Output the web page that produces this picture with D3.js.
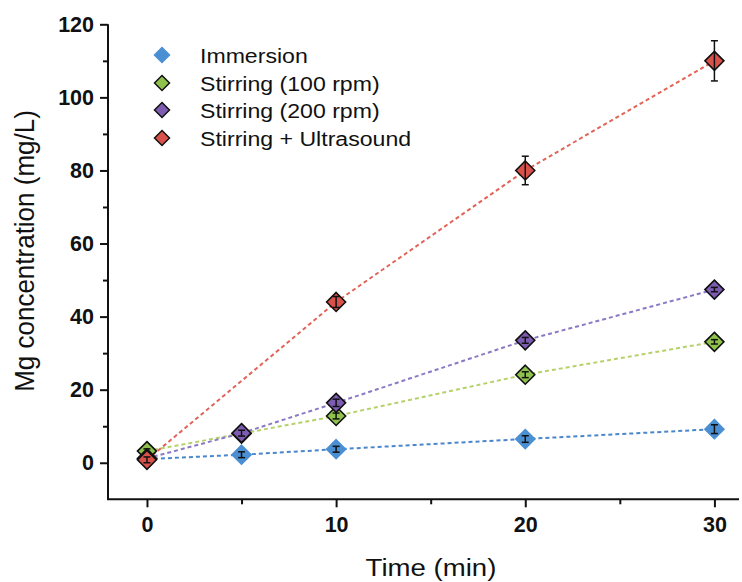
<!DOCTYPE html>
<html><head><meta charset="utf-8">
<script src="https://cdn.jsdelivr.net/npm/d3@7"></script>
<style>body{margin:0;background:#fff;} text{font-family:"Liberation Sans",Arial,sans-serif;}</style>
</head><body>
<svg id="c" width="742" height="582"></svg>
<script>
const times = [0, 5, 10, 20, 30];
const seriesNames = ["Immersion", "Stirring (100 rpm)", "Stirring (200 rpm)", "Stirring + Ultrasound"];
const immersion = [1.0, 2.2, 3.7, 6.5, 9.2];
const immersionErr = [0.4, 0.8, 0.8, 0.9, 1.2];
const stirring100 = [3.2, 8.0, 12.8, 24.1, 33.1];
const stirring100Err = [0.6, 0.6, 0.8, 0.8, 0.6];
const stirring200 = [1.2, 8.1, 16.4, 33.5, 47.4];
const stirring200Err = [0.5, 0.8, 1.0, 0.8, 0.6];
const ultrasoundTimes = [0, 10, 20, 30];
const ultrasound = [0.8, 44.0, 80.0, 110.0];
const ultrasoundErr = [0.8, 1.5, 3.9, 5.5];
const xMajorTicks = [0, 10, 20, 30];
const xMinorTicks = [5, 15, 25];
const yMajorTicks = [0, 20, 40, 60, 80, 100, 120];
const yMinorTicks = [10, 30, 50, 70, 90, 110];

const fills = ["#4b8fd3", "#8fc24d", "#7d5cb2", "#d8524b"];
const lineColors = ["#4a86cc", "#b5d26a", "#8c79c4", "#e26458"];

const series = [
  {name: seriesNames[0], t: times, v: immersion, e: immersionErr, outline: false},
  {name: seriesNames[1], t: times, v: stirring100, e: stirring100Err, outline: true},
  {name: seriesNames[2], t: times, v: stirring200, e: stirring200Err, outline: true},
  {name: seriesNames[3], t: ultrasoundTimes, v: ultrasound, e: ultrasoundErr, outline: true}
];

const svg = d3.select("#c");
const x = d3.scaleLinear().domain([-2.06, 31.3]).range([108, 739]);
const y = d3.scaleLinear().domain([-10, 120]).range([499.3, 24.3]);

// axes
const ax = svg.append("g");
ax.append("line").attr("x1", 108).attr("x2", 108).attr("y1", y(120)).attr("y2", y(-10)).attr("stroke", "#111").attr("stroke-width", 2);
ax.append("line").attr("x1", 107).attr("x2", x.range()[1]).attr("y1", y(-10)).attr("y2", y(-10)).attr("stroke", "#111").attr("stroke-width", 2);

const yAxis = d3.axisLeft(y).tickValues(yMajorTicks).tickSize(8).tickPadding(6);
const gy = svg.append("g").attr("transform", "translate(108,0)").call(yAxis);
gy.select(".domain").remove();
gy.selectAll(".tick line").attr("stroke", "#111").attr("stroke-width", 2);
gy.selectAll(".tick text").attr("font-size", 21.5).attr("font-weight", "bold").attr("fill", "#111").attr("font-family", "Liberation Sans, Arial, sans-serif");
const gy2 = svg.append("g").attr("transform", "translate(108,0)").call(d3.axisLeft(y).tickValues(yMinorTicks).tickSize(5).tickFormat(""));
gy2.select(".domain").remove();
gy2.selectAll(".tick line").attr("stroke", "#111").attr("stroke-width", 2);

const xAxis = d3.axisBottom(x).tickValues(xMajorTicks).tickSize(8).tickPadding(9);
const gx = svg.append("g").attr("transform", `translate(0,${y(-10)})`).call(xAxis);
gx.select(".domain").remove();
gx.selectAll(".tick line").attr("stroke", "#111").attr("stroke-width", 2);
gx.selectAll(".tick text").attr("font-size", 21.5).attr("font-weight", "bold").attr("fill", "#111").attr("font-family", "Liberation Sans, Arial, sans-serif");
const gx2 = svg.append("g").attr("transform", `translate(0,${y(-10)})`).call(d3.axisBottom(x).tickValues(xMinorTicks).tickSize(5).tickFormat(""));
gx2.select(".domain").remove();
gx2.selectAll(".tick line").attr("stroke", "#111").attr("stroke-width", 2);

// titles
svg.append("text").attr("x", 431).attr("y", 576).attr("text-anchor", "middle").attr("font-size", 24).attr("fill", "#111").attr("transform", "translate(431,0) scale(1.15,1) translate(-431,0)").text("Time (min)");
svg.append("text").attr("transform", "translate(34,251) rotate(-90) scale(1,1.08)").attr("text-anchor", "middle").attr("font-size", 26).attr("fill", "#111").text("Mg concentration (mg/L)");

// lines
const line = d3.line().x(d => x(d[0])).y(d => y(d[1]));
const diamondPath = (s) => `M0,${-s}L${s},0L0,${s}L${-s},0Z`;

series.forEach((s, i) => {
  const pts = s.t.map((t, j) => [t, s.v[j], s.e[j]]);
  svg.append("path").datum(pts).attr("d", line).attr("fill", "none").attr("stroke", lineColors[i]).attr("stroke-width", 2).attr("stroke-dasharray", "4,3");
});
series.forEach((s, i) => {
  const pts = s.t.map((t, j) => [t, s.v[j], s.e[j]]);
  const g = svg.append("g");
  g.selectAll("path.m").data(pts).enter().append("path")
    .attr("transform", d => `translate(${x(d[0])},${y(d[1])})`)
    .attr("d", diamondPath(9.5))
    .attr("fill", fills[i]).attr("stroke", s.outline ? "#111" : fills[i]).attr("stroke-width", 1.6);
  const eb = g.selectAll("g.e").data(pts).enter().append("g");
  eb.append("line").attr("x1", d => x(d[0])).attr("x2", d => x(d[0])).attr("y1", d => y(d[1] - d[2])).attr("y2", d => y(d[1] + d[2])).attr("stroke", "#111").attr("stroke-width", 1.5);
  eb.append("line").attr("x1", d => x(d[0]) - 3.5).attr("x2", d => x(d[0]) + 3.5).attr("y1", d => y(d[1] + d[2])).attr("y2", d => y(d[1] + d[2])).attr("stroke", "#111").attr("stroke-width", 1.5);
  eb.append("line").attr("x1", d => x(d[0]) - 3.5).attr("x2", d => x(d[0]) + 3.5).attr("y1", d => y(d[1] - d[2])).attr("y2", d => y(d[1] - d[2])).attr("stroke", "#111").attr("stroke-width", 1.5);
});

// legend
const legY = [55, 83, 110, 138];
series.forEach((s, i) => {
  svg.append("path").attr("transform", `translate(162,${legY[i]})`).attr("d", diamondPath(7.5))
    .attr("fill", fills[i]).attr("stroke", s.outline ? "#111" : fills[i]).attr("stroke-width", 1.5);
  svg.append("text").attr("x", 200).attr("y", legY[i]).attr("dy", "0.36em").attr("font-size", 21).attr("fill", "#111")
    .attr("transform", `translate(200,0) scale(1.1,1) translate(-200,0)`).text(s.name);
});
</script>
</body></html>
